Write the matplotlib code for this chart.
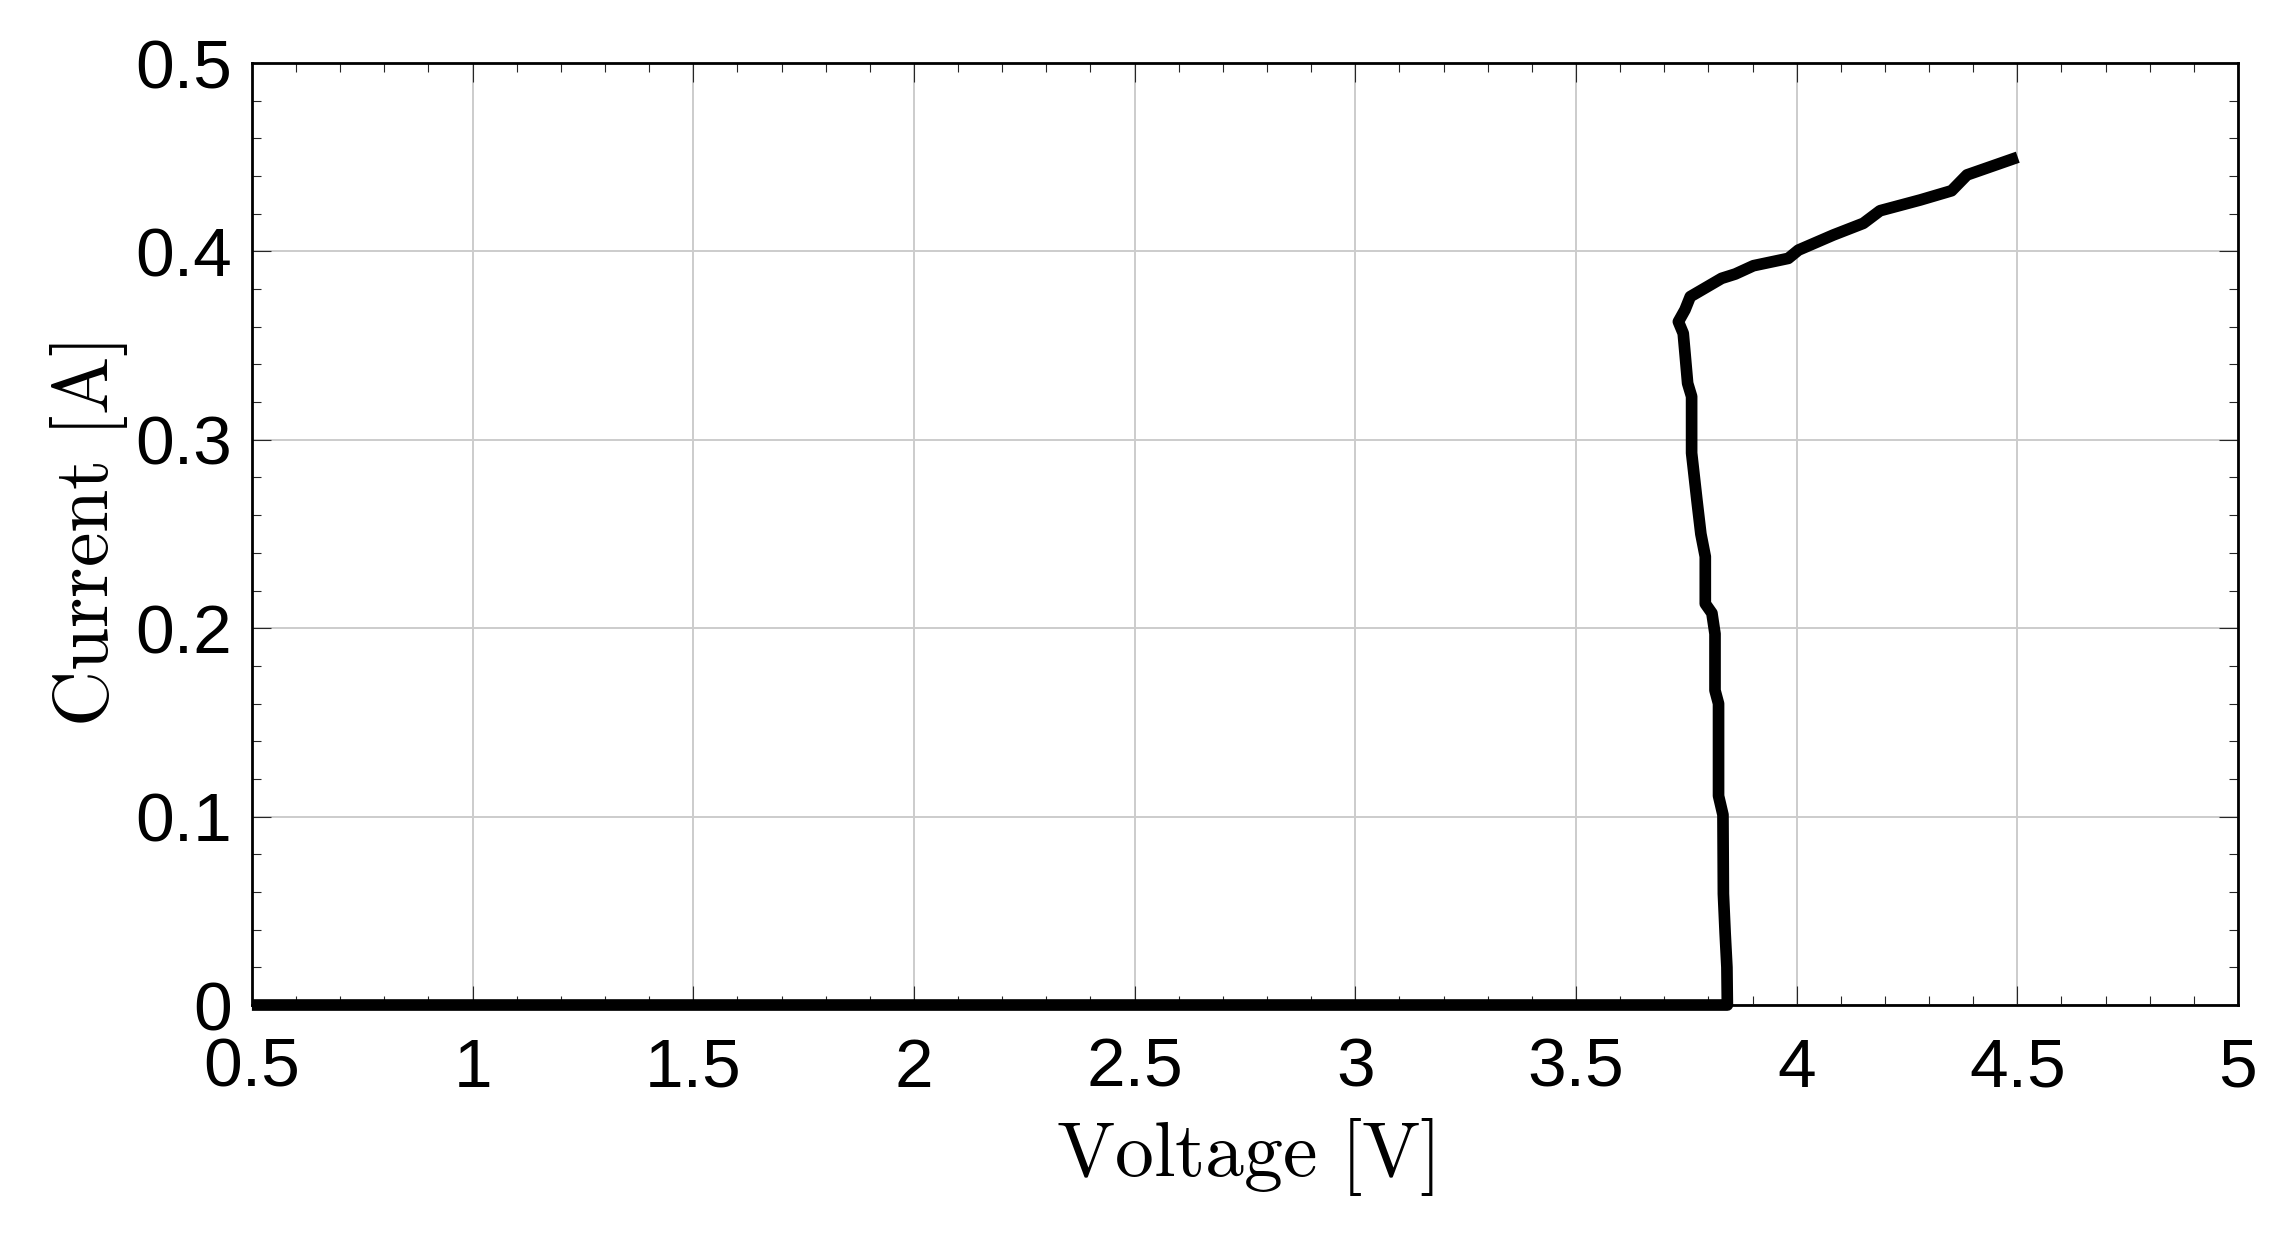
import matplotlib
matplotlib.use("Agg")
import matplotlib.pyplot as plt
from matplotlib.ticker import MultipleLocator, FuncFormatter

voltage = [0.5, 3.82, 3.843, 3.842, 3.838, 3.834, 3.833, 3.823, 3.823, 3.815, 3.815,
           3.808, 3.793, 3.793, 3.783, 3.774, 3.762, 3.762, 3.753, 3.747, 3.743, 3.732,
           3.747, 3.759, 3.781, 3.830, 3.861, 3.902, 3.981, 4.004, 4.083, 4.151, 4.189,
           4.280, 4.351, 4.386, 4.501]
current = [0.0, 0.0, 0.0, 0.020, 0.038, 0.059, 0.101, 0.111, 0.160, 0.167, 0.197,
           0.208, 0.213, 0.238, 0.250, 0.268, 0.293, 0.323, 0.330, 0.346, 0.3565, 0.3627,
           0.369, 0.376, 0.379, 0.3857, 0.388, 0.3924, 0.3963, 0.4007, 0.4087, 0.4149, 0.4216,
           0.4273, 0.4322, 0.4406, 0.450]

plt.rcParams['font.family'] = ['Liberation Sans', 'DejaVu Sans']
plt.rcParams['mathtext.fontset'] = 'cm'

fig = plt.figure(figsize=(11.45, 6.165), dpi=200)
ax = fig.add_axes([0.110, 0.1849, 0.8673, 0.764])

ax.plot(voltage, current, color='black', lw=4.2,
        solid_capstyle='butt', solid_joinstyle='round', zorder=3, clip_on=False)

ax.set_xlim(0.5, 5)
ax.set_ylim(0, 0.5)
ax.xaxis.set_major_locator(MultipleLocator(0.5))
ax.xaxis.set_minor_locator(MultipleLocator(0.1))
ax.yaxis.set_major_locator(MultipleLocator(0.1))
ax.yaxis.set_minor_locator(MultipleLocator(0.02))
fmt = FuncFormatter(lambda v, p: '%g' % round(v, 2))
ax.xaxis.set_major_formatter(fmt)
ax.yaxis.set_major_formatter(fmt)

ax.grid(True, which='major', color='#cccccc', lw=0.7)
ax.set_axisbelow(True)

ax.tick_params(which='both', direction='in', top=True, right=True,
               width=0.4, color='#262626', labelsize=25)
ax.tick_params(which='major', length=6.8)
ax.tick_params(which='minor', length=3.2)
ax.tick_params(axis='x', pad=11.5)
ax.tick_params(axis='y', pad=7)

for s in ax.spines.values():
    s.set_linewidth(1.0)
    s.set_color('black')

ax.set_xlabel(r'$\mathrm{Voltage\ [V]}$', fontsize=28, labelpad=5.5)
ax.set_ylabel(r'$\mathrm{Current\ [A]}$', fontsize=28, labelpad=2)

fig.savefig('out.png', dpi=200)
